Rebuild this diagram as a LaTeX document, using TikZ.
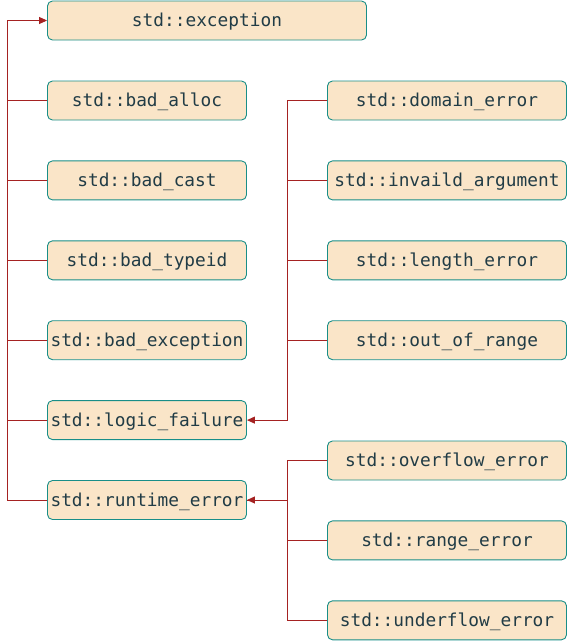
\documentclass[tikz,border=0pt]{standalone}
\usepackage{fontspec}
\setmonofont{DejaVu Sans Mono}
\usepackage{xcolor}
\usetikzlibrary{arrows.meta,positioning}
\definecolor{boxfill}{HTML}{FAE5C8}
\definecolor{boxline}{HTML}{188E88}
\definecolor{linkred}{HTML}{A52222}
\definecolor{textdark}{HTML}{213C46}

\begin{document}
\begin{tikzpicture}[
    x=1pt, y=-1pt,
    node distance=40pt,
    cls/.style={draw=boxline, fill=boxfill, rounded corners=5pt, line width=0.9pt,
      minimum height=39pt, inner sep=0pt, text=textdark,
      text height=15pt, text depth=3pt,
      font=\ttfamily\fontsize{17.8}{20}\selectfont},
    base/.style={cls, minimum width=319pt},
    left/.style={cls, minimum width=199pt},
    right/.style={cls, minimum width=239pt},
    link/.style={draw=linkred, line width=0.9pt},
    flow/.style={link, -{Triangle[length=8pt,width=7pt]}}]
  \useasboundingbox (0,0) rectangle (568,641);
  % root class
  \node[base] (exc) at (207,20.5) {std::exception};
  % left column
  \node[left] (alloc) at (147,100.5) {std::bad\_alloc};
  \node[left, below=of alloc] (cast) {std::bad\_cast};
  \node[left, below=of cast] (typeid) {std::bad\_typeid};
  \node[left, below=of typeid] (badexc) {std::bad\_exception};
  \node[left, below=of badexc] (logic) {std::logic\_failure};
  \node[left, below=of logic] (runtime) {std::runtime\_error};
  % right column
  \node[right] (domain) at (447,100.5) {std::domain\_error};
  \node[right, below=of domain] (invarg) {std::invaild\_argument};
  \node[right, below=of invarg] (length) {std::length\_error};
  \node[right, below=of length] (range) {std::out\_of\_range};
  \node[right] (overflow) at (447,460.5) {std::overflow\_error};
  \node[right, below=of overflow] (rangeerr) {std::range\_error};
  \node[right, below=of rangeerr] (underflow) {std::underflow\_error};
  % inheritance
  \draw[flow] (runtime.west) -- ++(-40,0) |- (exc.west);
  \draw[link] (alloc.west) -- ++(-40,0);
  \draw[link] (cast.west) -- ++(-40,0);
  \draw[link] (typeid.west) -- ++(-40,0);
  \draw[link] (badexc.west) -- ++(-40,0);
  \draw[link] (logic.west) -- ++(-40,0);
  \draw[flow] (domain.west) -- ++(-40,0) |- (logic.east);
  \draw[link] (invarg.west) -- ++(-40,0);
  \draw[link] (length.west) -- ++(-40,0);
  \draw[link] (range.west) -- ++(-40,0);
  \draw[flow] (underflow.west) -- ++(-40,0) |- (runtime.east);
  \draw[link] (overflow.west) -- ++(-40,0) |- (runtime.east);
  \draw[link] (rangeerr.west) -- ++(-40,0);
\end{tikzpicture}
\end{document}
